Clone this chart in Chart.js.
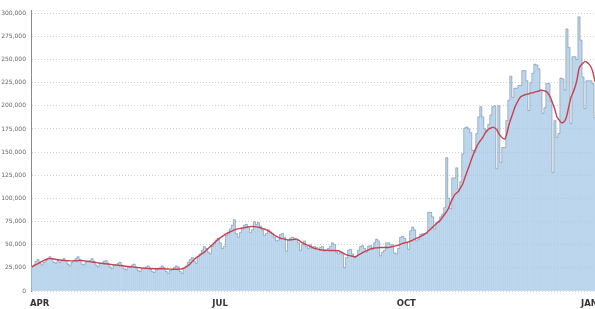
<!DOCTYPE html>
<html>
<head>
<meta charset="utf-8">
<script src="https://cdn.jsdelivr.net/npm/chart.js@4.4.0/dist/chart.umd.min.js"></script>
<style>
  html, body { margin: 0; padding: 0; background: #fff; overflow: hidden; }
  #wrap { width: 595px; height: 309px; overflow: hidden; }
</style>
</head>
<body>
<div id="wrap"><canvas id="cases" width="603" height="309"></canvas></div>
<script>
// first day of the series, and the month ticks shown under the axis
const startDay = '2020-04-01';
const tickDays = ['2020-04-01', '2020-07-01', '2020-10-01', '2021-01-01'];
const tickLabels = ['APR', 'JUL', 'OCT', 'JAN'];
const yTicks = [0, 25000, 50000, 75000, 100000, 125000, 150000, 175000, 200000, 225000, 250000, 275000, 300000];

// daily new cases, in thousands (one row = one week, starting on a Wednesday)
const dailyK = [
  26, 28, 32, 34, 30, 28, 31,
  33, 35, 37, 35, 31, 30, 33,
  31, 33, 35, 33, 29, 27, 31,
  33, 35, 37, 34, 29, 28, 31,
  32, 33, 35, 32, 28, 26, 30,
  30, 32, 33, 30, 26, 24, 28,
  28, 30, 31, 28, 24, 23, 26,
  26, 28, 29, 26, 22, 21, 24,
  24, 26, 27, 25, 21, 20, 23,
  24, 25, 27, 25, 21, 19, 22,
  23, 25, 27, 26, 21, 19, 24,
  27, 31, 34, 36, 32, 30, 37,
  40, 44, 48, 46, 42, 40, 48,
  51, 55, 57, 52, 46, 48, 60,
  62, 67, 71, 77, 62, 58, 63,
  67, 71, 72, 69, 63, 66, 75,
  72, 74, 70, 66, 60, 62, 66,
  64, 62, 58, 54, 55, 61, 62,
  58, 43, 55, 57, 58, 57, 56,
  52, 44, 50, 54, 48, 46, 50,
  46, 48, 47, 45, 47, 48, 43,
  44, 46, 48, 52, 50, 42, 40,
  42, 40, 25, 36, 44, 45, 40,
  36, 38, 44, 48, 49, 46, 42,
  48, 49, 45, 52, 56, 54, 38,
  42, 44, 52, 52, 50, 50, 41,
  40, 46, 58, 59, 57, 52, 45,
  65, 69, 66, 54, 56, 61, 62,
  62, 62, 85, 85, 80, 67, 74,
  74, 80, 83, 90, 144, 100, 89,
  122, 122, 133, 110, 118, 148, 176,
  177, 175, 171, 152, 150, 170, 188,
  199, 188, 175, 172, 180, 190, 199,
  200, 132, 200, 139, 155, 155, 184,
  206, 232, 209, 219, 219, 222, 222,
  238, 238, 227, 195, 225, 235, 245,
  244, 240, 217, 192, 198, 224, 224,
  205, 128, 184, 166, 170, 230, 229,
  217, 283, 263, 181, 253, 253, 250,
  296, 271, 231, 197, 227, 227, 227,
  224, 187
];

// 7-day average (red line), in thousands
const averageK = [
  26, 27.5, 28.5, 29.5, 31, 32, 33,
  34, 35, 35, 34.8, 34.5, 34, 33.8,
  33.5, 33.2, 33, 32.8, 32.7, 32.5, 32.5,
  32.5, 32.6, 32.8, 33, 32.8, 32.5, 32.3,
  32, 31.7, 31.3, 31, 30.7, 30.4, 30,
  29.8, 29.5, 29.3, 29, 28.8, 28.5, 28.2,
  28, 27.8, 27.5, 27.2, 27, 26.7, 26.4,
  26.2, 26, 25.8, 25.5, 25.2, 25, 24.8,
  24.6, 24.4, 24.2, 24, 24, 24, 24,
  24, 24, 24, 24, 23.8, 23.7, 23.6,
  23.5, 23.5, 23.5, 23.5, 23.6, 24, 25,
  26, 27.5, 29.5, 32, 34, 36, 37.5,
  39, 40.5, 42, 44, 46, 48, 50,
  52, 54, 56, 57.5, 59, 60.5, 62,
  63, 64, 65, 66, 66.8, 67.2, 67.6,
  68, 68.4, 68.8, 69.2, 69.5, 69.6, 69.5,
  69.2, 68.8, 68.3, 67.5, 67, 66, 65,
  63.5, 62, 60.5, 59, 58, 57, 56.5,
  56, 55.5, 55.2, 55.2, 55.5, 55.8, 56,
  55, 53.5, 52, 51, 50, 49, 48,
  47, 46, 45.5, 45, 44.5, 44.2, 44,
  44, 43.8, 43.8, 43.8, 43.7, 43.5, 43.5,
  42.5, 41.5, 40, 39, 38.5, 38, 37.5,
  37, 37.5, 39, 40, 41.5, 42.5, 43.5,
  44.5, 45.5, 46, 46.5, 46.6, 46.8, 47,
  47, 47, 47, 47, 47.5, 48, 48.5,
  49, 49.5, 50.5, 51.5, 52, 52.5, 53,
  54, 55, 56, 57, 58, 59, 60,
  61.5, 63, 65, 67, 69, 71, 73,
  75, 77, 80, 83, 86, 90, 95.6,
  100, 104, 106, 108, 112, 115.6, 122,
  128, 134, 140, 146, 151.6, 156, 160,
  163, 166, 170, 173, 175, 176, 177,
  176, 174, 170, 167, 165, 164, 170,
  179, 186, 192, 198.6, 203, 207, 210,
  211, 212, 212.5, 213, 214, 214, 215,
  215.5, 216, 217, 216.5, 216, 215, 212,
  208, 202, 196, 188, 185, 182, 182,
  184, 190, 200, 209, 214, 220, 228,
  240, 244, 246, 248, 247, 245, 242,
  236, 226
];

// one category per day
const days = [];
const first = new Date(startDay + 'T00:00:00Z');
for (let i = 0; i < dailyK.length; i++) {
  days.push(new Date(first.getTime() + i * 86400000).toISOString().slice(0, 10));
}
const daily = dailyK.map(v => v * 1000);
const average = averageK.map(v => v * 1000);

const ctx = document.getElementById('cases').getContext('2d');
new Chart(ctx, {
  type: 'bar',
  data: {
    labels: days,
    datasets: [
      {
        type: 'line',
        label: '7-day average',
        data: average,
        borderColor: '#c8404e',
        borderWidth: 1.4,
        pointRadius: 0,
        tension: 0.2,
        fill: false,
        order: 0
      },
      {
        type: 'line',
        label: 'outline',
        data: daily,
        stepped: 'middle',
        borderColor: 'rgba(80, 95, 110, 0.5)',
        borderWidth: 0.7,
        pointRadius: 0,
        fill: false,
        order: 1
      },
      {
        label: 'New cases',
        data: daily,
        backgroundColor: 'rgba(169, 202, 231, 0.72)',
        borderWidth: 0,
        barPercentage: 1,
        categoryPercentage: 1,
        order: 2
      }
    ]
  },
  options: {
    responsive: false,
    animation: false,
    devicePixelRatio: 1,
    events: [],
    layout: { padding: { top: 10, right: 0, bottom: 0, left: 0 } },
    plugins: { legend: { display: false }, tooltip: { enabled: false } },
    scales: {
      x: {
        afterFit: function (scale) { scale.height = 18; },
        grid: { display: false, drawTicks: false },
        border: { display: false },
        ticks: {
          autoSkip: false,
          maxRotation: 0,
          minRotation: 0,
          align: 'start',
          labelOffset: -2,
          padding: 8,
          color: '#333',
          font: { family: 'DejaVu Sans', size: 8.5, weight: 'bold' },
          callback: function (value, index) {
            const k = tickDays.indexOf(days[index]);
            return k >= 0 ? tickLabels[k] : '';
          }
        }
      },
      y: {
        min: 0,
        max: 303500,
        afterFit: function (scale) { scale.width = 31; },
        afterBuildTicks: function (scale) { scale.ticks = yTicks.map(v => ({ value: v })); },
        grid: { color: '#cfcfcf', lineWidth: 1, drawTicks: false },
        border: { display: true, color: '#8a8a8a', width: 1, dash: [1, 2] },
        ticks: {
          padding: 5,
          color: '#666',
          font: { family: 'DejaVu Sans', size: 6 },
          callback: v => v.toLocaleString('en-US')
        }
      }
    }
  }
});
</script>
</body>
</html>
